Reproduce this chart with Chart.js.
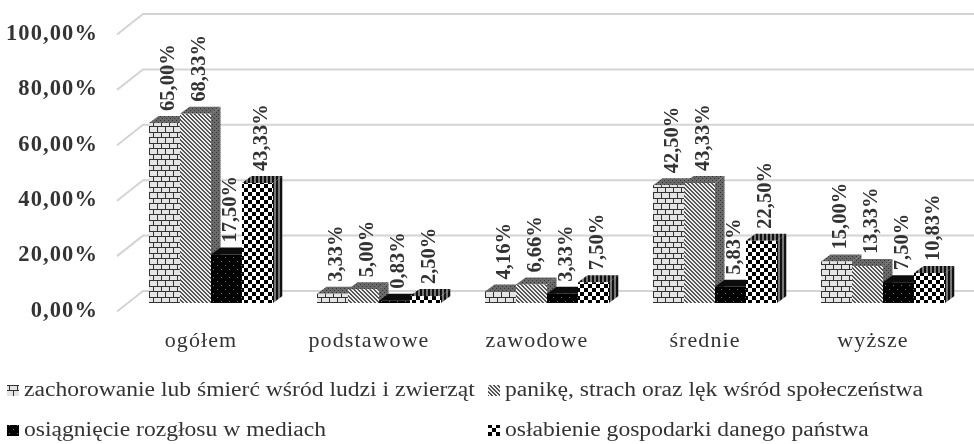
<!DOCTYPE html>
<html><head><meta charset="utf-8">
<style>html,body{margin:0;padding:0;background:#fff}canvas{display:block}</style>
<script src="https://cdn.jsdelivr.net/npm/chart.js@4/dist/chart.umd.min.js"></script>
</head><body><canvas id="c" width="974" height="444"></canvas>
<script>
const categories = ['ogółem','podstawowe','zawodowe','średnie','wyższe'];
const seriesNames = ['zachorowanie lub śmierć wśród ludzi i zwierząt','panikę, strach oraz lęk wśród społeczeństwa','osiągnięcie rozgłosu w mediach','osłabienie gospodarki danego państwa'];
const illness = [65.00,3.33,4.16,42.50,15.00];
const panic = [68.33,5.00,6.66,43.33,13.33];
const media = [17.50,0.83,3.33,5.83,7.50];
const economy = [43.33,2.50,7.50,22.50,10.83];
const yTicks = [0,20,40,60,80,100];
const fmt = v => v.toFixed(2).replace('.',',') + '%';
const INK = '#333333';
const FONT = '"Liberation Serif","Times New Roman",serif';

function tile(w,h,draw){
  const t=document.createElement('canvas');t.width=w;t.height=h;
  const g=t.getContext('2d');draw(g,w,h);
  return t;
}
const ctx0=document.getElementById('c').getContext('2d');
const pat=t=>ctx0.createPattern(t,'repeat');
const brick=g=>{g.fillStyle='#e4e4e4';g.fillRect(0,0,8,11);g.fillStyle='#333';
  g.fillRect(0,0,8,1);g.fillRect(0,5,8,1);g.fillRect(1,0,1,5);g.fillRect(5,5,1,6);};
const diag=g=>{g.fillStyle='#eee';g.fillRect(0,0,4,4);g.fillStyle='#555';
  for(let i=0;i<4;i++){g.fillRect(i,i,1,1);g.fillRect((i+1)%4,i,1,1);}};
const dots=g=>{g.fillStyle='#000';g.fillRect(0,0,8,8);g.fillStyle='#777';g.fillRect(1,1,1,1);g.fillRect(5,5,1,1);};
const check=g=>{g.fillStyle='#fff';g.fillRect(0,0,8,8);g.fillStyle='#000';g.fillRect(0,0,4,4);g.fillRect(4,4,4,4);};
const darkTop=g=>{g.fillStyle='#6a6a6a';g.fillRect(0,0,4,4);g.fillStyle='#333';g.fillRect(0,0,1,1);g.fillRect(2,2,1,1);};
const darkStripe=g=>{g.fillStyle='#777';g.fillRect(0,0,4,4);g.fillStyle='#111';g.fillRect(0,0,2,4);};
const fronts=[pat(tile(8,11,brick)),pat(tile(4,4,diag)),pat(tile(8,8,dots)),pat(tile(8,8,check))];
const tops=[pat(tile(4,4,darkTop)),pat(tile(4,4,darkTop)),'#0c0c0c',pat(tile(4,4,darkStripe))];
const sides=[pat(tile(4,4,darkTop)),pat(tile(4,4,darkTop)),'#0c0c0c',pat(tile(4,4,darkStripe))];
const DX=9.5,DY=7;

const bars3d={id:'bars3d',
  beforeDraw(ch){ch.ctx.letterSpacing='1.1px';},
  beforeDatasetsDraw(ch){
    const c=ch.ctx,y=ch.scales.y;
    c.letterSpacing='0px';
    // back wall gridlines and the floor edges, from the value scale
    c.save();c.strokeStyle='#d4d4d4';c.lineWidth=2;
    yTicks.forEach(v=>{
      const py=y.getPixelForValue(v);
      c.beginPath();c.moveTo(117,py+8.5);c.lineTo(143,py-12);c.lineTo(974,py-12);c.stroke();
    });
    c.restore();
    ch.data.datasets.forEach((ds,i)=>{
      ch.getDatasetMeta(i).data.forEach(b=>{
        const l=b.x-b.width/2,r=b.x+b.width/2,t=b.y,bt=b.base;
        c.fillStyle=tops[i];c.beginPath();c.moveTo(l,t);c.lineTo(l+DX,t-DY);c.lineTo(r+DX,t-DY);c.lineTo(r,t);c.closePath();c.fill();
        c.fillStyle=sides[i];c.beginPath();c.moveTo(r,t);c.lineTo(r+DX,t-DY);c.lineTo(r+DX,bt-DY);c.lineTo(r,bt);c.closePath();c.fill();
      });
    });
  },
  afterDatasetsDraw(ch){
    const c=ch.ctx;
    c.save();c.fillStyle=INK;c.font='bold 20.5px '+FONT;c.textAlign='left';c.textBaseline='middle';
    ch.data.datasets.forEach((ds,i)=>{
      ch.getDatasetMeta(i).data.forEach((b,j)=>{
        c.save();c.translate(b.x+4.5,b.y-DY-5);c.rotate(-Math.PI/2);c.fillText(fmt(ds.data[j]),0,0);c.restore();
      });
    });
    c.restore();
    // legend in two aligned columns
    const pos=[[7,391],[488,391],[7,431],[488,431]];
    c.save();c.font='20px '+FONT;c.textAlign='left';c.textBaseline='middle';
    ch.data.datasets.forEach((ds,i)=>{
      const [x,y]=pos[i];
      c.fillStyle=fronts[i];c.fillRect(x,y-6,12,11);
      c.fillStyle=INK;
      c.save();c.translate(x+17,y);c.scale(1.18,1);c.fillText(ds.label,0,0);c.restore();
    });
    c.restore();
  }
};

new Chart(ctx0,{
  type:'bar',
  data:{labels:categories,datasets:[illness,panic,media,economy].map((d,i)=>({
    label:seriesNames[i],data:d,backgroundColor:fronts[i],borderWidth:0,
    categoryPercentage:0.738,barPercentage:1}))},
  plugins:[bars3d],
  options:{responsive:false,animation:false,
    layout:{padding:{top:26,right:7,left:0,bottom:0}},
    plugins:{legend:{display:false},tooltip:{enabled:false}},
    scales:{
      x:{grid:{display:false},border:{display:false},
        afterFit(s){s.height=141;},
        ticks:{color:INK,font:{family:FONT,size:22},padding:17,labelOffset:-10,maxRotation:0,autoSkip:false}},
      y:{min:0,max:100,grid:{display:false,drawTicks:false},border:{display:false},
        afterFit(s){s.width=127;s.paddingTop=0;s.paddingBottom=0;},
        afterBuildTicks(s){s.ticks=yTicks.map(v=>({value:v}));},
        ticks:{color:INK,font:{family:FONT,size:22.5,weight:'bold'},padding:29,labelOffset:8,callback:v=>fmt(v)}}
    }
  }
});
</script></body></html>
